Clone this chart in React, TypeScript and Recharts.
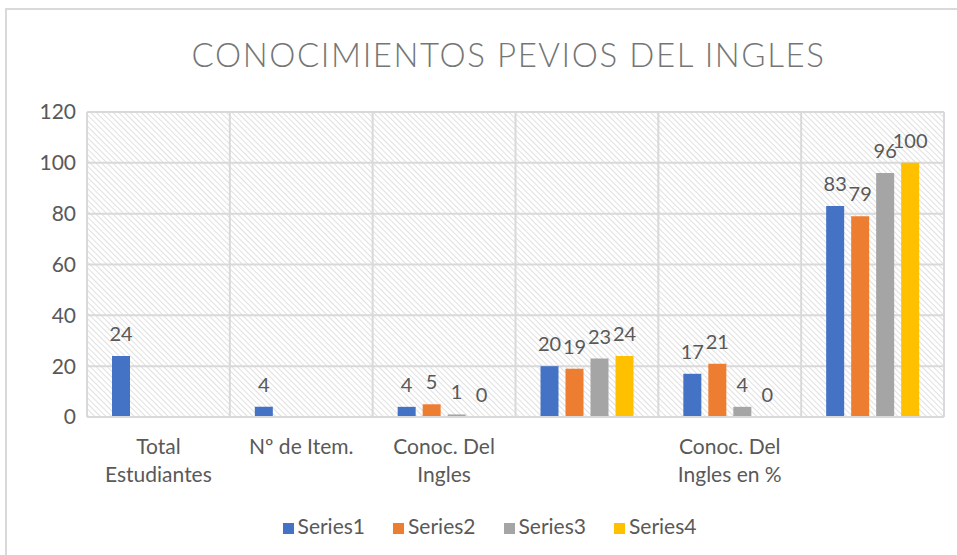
import { BarChart, Bar, XAxis, YAxis, CartesianGrid, Legend, LabelList } from 'recharts';

// categorias del eje X (dos quedan en blanco, como en el original)
const categories = ['Total\nEstudiantes', 'Nº de Item.', 'Conoc. Del\nIngles', '', 'Conoc. Del\nIngles en %', ''];
const series1 = [24, 4, 4, 20, 17, 83];
const series2 = [null, null, 5, 19, 21, 79];
const series3 = [null, null, 1, 23, 4, 96];
const series4 = [null, null, 0, 24, 0, 100];
const yTicks = [0, 20, 40, 60, 80, 100, 120];

const seriesNames = ['Series1', 'Series2', 'Series3', 'Series4'];
const colors = ['#4472C4', '#ED7D31', '#A5A5A5', '#FFC000'];

const data = categories.map((cat, i) => ({
  cat,
  Series1: series1[i],
  Series2: series2[i],
  Series3: series3[i],
  Series4: series4[i],
}));

const FONT = 'Lato, "Noto Sans", sans-serif';
const TEXT = '#595959';
const GRID = '#d9d9d9';
const FS = 21;

const CategoryTick = (props: any) => {
  const { x, y, payload } = props;
  if (!payload.value) return null;
  const lines = String(payload.value).split('\n');
  return (
    <text x={x} y={y + 29} textAnchor="middle" fill={TEXT} fontSize={FS} fontFamily={FONT}>
      {lines.map((l, i) => (
        <tspan key={i} x={x} dy={i === 0 ? 0 : 28}>
          {l}
        </tspan>
      ))}
    </text>
  );
};

// etiqueta de valor encima de cada barra (tambien para los ceros)
const ValueLabel = (props: any) => {
  const { x, y, width, value } = props;
  if (value === null || value === undefined) return null;
  return (
    <text x={x + width / 2} y={y - 15} textAnchor="middle" fill={TEXT} fontSize={20} fontFamily={FONT}>
      {value}
    </text>
  );
};

export default function App() {
  return (
    <div style={{ position: 'absolute', left: 0, top: 0, width: 957, height: 555, background: 'white', fontFamily: FONT }}>
      <div style={{ position: 'absolute', left: 5, top: 8, width: 960, height: 560, border: '2px solid #d9d9d9', boxSizing: 'border-box' }} />
      <div
        style={{
          position: 'absolute',
          top: 34,
          left: 30,
          width: 957,
          textAlign: 'center',
          fontSize: 33,
          fontWeight: 300,
          color: '#757575',
          letterSpacing: 1.6,
        }}
      >
        CONOCIMIENTOS PEVIOS DEL INGLES
      </div>
      <BarChart
        width={957}
        height={555}
        data={data}
        margin={{ top: 112, right: 13, left: 7, bottom: 17 }}
        barSize={18}
        barGap={7}
        style={{ position: 'absolute', left: 0, top: 0 }}
      >
        <defs>
          <pattern id="hatch" width="4" height="4" patternUnits="userSpaceOnUse" patternTransform="rotate(-45)">
            <rect width="4" height="4" fill="#ffffff" />
            <line x1="0" y1="0" x2="0" y2="4" stroke="#d3d3d3" strokeWidth="1.4" />
          </pattern>
        </defs>
        <CartesianGrid
          fill="url(#hatch)"
          stroke={GRID}
          strokeWidth={2}
          verticalCoordinatesGenerator={({ offset }: any) =>
            categories.map((_, i) => offset.left + (i * offset.width) / categories.length).concat(offset.left + offset.width)
          }
        />
        <XAxis
          dataKey="cat"
          tick={<CategoryTick />}
          tickLine={false}
          axisLine={{ stroke: GRID, strokeWidth: 2 }}
          height={96}
          interval={0}
        />
        <YAxis
          domain={[0, 120]}
          ticks={yTicks}
          width={80}
          axisLine={false}
          tickLine={false}
          tickSize={0}
          tickMargin={11}
          tick={{ fill: TEXT, fontSize: FS, fontFamily: FONT }}
        />
        <Legend
          verticalAlign="bottom"
          iconType="square"
          iconSize={11}
          wrapperStyle={{ fontFamily: FONT, fontSize: FS, left: 35 }}
          formatter={(value: string) => <span style={{ color: TEXT, marginRight: 18 }}>{value}</span>}
        />
        {seriesNames.map((name, i) => (
          <Bar
            key={name}
            dataKey={name}
            fill={colors[i]}
            isAnimationActive={false}
            minPointSize={(v: any) => (v === 0 ? 0.01 : 0)}
          >
            <LabelList dataKey={name} content={<ValueLabel />} />
          </Bar>
        ))}
      </BarChart>
    </div>
  );
}
